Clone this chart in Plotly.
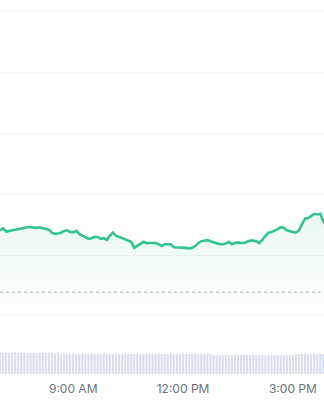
import pandas as pd
import plotly.graph_objects as go

# ---- data (5-minute intervals starting 07:00) ----
start_time = "2024-01-02 07:00"
prices = [
    61.41, 61.44, 61.39, 61.40, 61.41, 61.43, 61.44, 61.44, 61.45, 61.46,
    61.46, 61.45, 61.45, 61.46, 61.44, 61.43, 61.42, 61.37, 61.35, 61.36,
    61.37, 61.40, 61.41, 61.38, 61.38, 61.40, 61.35, 61.32, 61.29, 61.27,
    61.28, 61.30, 61.30, 61.27, 61.28, 61.25, 61.32, 61.37, 61.32, 61.30,
    61.28, 61.27, 61.25, 61.22, 61.12, 61.15, 61.18, 61.22, 61.20, 61.20,
    61.20, 61.20, 61.18, 61.15, 61.18, 61.18, 61.18, 61.13, 61.13, 61.13,
    61.13, 61.12, 61.11, 61.12, 61.15, 61.20, 61.23, 61.24, 61.25, 61.23,
    61.21, 61.19, 61.18, 61.18, 61.19, 61.22, 61.18, 61.20, 61.21, 61.20,
    61.20, 61.22, 61.24, 61.24, 61.23, 61.20, 61.25, 61.32, 61.37, 61.38,
    61.40, 61.43, 61.46, 61.45, 61.41, 61.39, 61.38, 61.37, 61.41, 61.51,
    61.60, 61.61, 61.64, 61.68, 61.67, 61.68, 61.55, 61.50,
]
volumes = [
    2.15, 2.10, 2.15, 2.10, 2.15, 2.15, 2.10, 2.15, 2.15, 2.10,
    2.15, 2.15, 2.10, 2.15, 2.15, 2.10, 2.15, 2.15, 2.10, 2.15,
    2.00, 2.05, 2.00, 2.00, 2.05, 2.00, 2.00, 2.05, 2.00, 2.00,
    2.05, 2.00, 2.00, 2.00, 2.05, 2.00, 2.00, 2.00, 2.05, 2.00,
    2.00, 2.05, 2.00, 2.00, 2.00, 2.05, 2.00, 2.00, 2.00, 2.05,
    2.00, 2.00, 2.05, 2.00, 2.00, 2.00, 2.05, 2.00, 2.00, 2.00,
    2.05, 2.00, 2.00, 2.00, 2.05, 2.00, 2.00, 2.00, 2.05, 2.00,
    1.90, 1.95, 1.90, 1.90, 1.95, 1.90, 1.90, 1.95, 1.90, 1.90,
    1.95, 1.90, 1.90, 1.95, 1.90, 1.90, 1.95, 1.90, 1.90, 1.95,
    1.90, 1.90, 1.95, 1.90, 1.90, 1.95, 1.90, 2.00, 2.00, 2.00,
    2.05, 2.00, 2.00, 2.05, 2.00, 2.05, 2.00, 2.00,
]
prev_close = 60.39
tick_times = ["2024-01-02 09:00", "2024-01-02 12:00", "2024-01-02 15:00"]
tick_labels = ["9:00 AM", "12:00 PM", "3:00 PM"]
x_range = ["2024-01-02 07:00", "2024-01-02 15:51"]
price_range = [59.046, 65.197]
volume_range = [0, 37.4]

times = pd.date_range(start_time, periods=len(prices), freq="5min")

GREEN = "#33c48d"

fig = go.Figure()
fig.add_trace(go.Scatter(
    x=times, y=prices, mode="lines",
    line=dict(color=GREEN, width=2.6),
    fill="tozeroy",
    fillgradient=dict(
        type="vertical",
        start=60.0, stop=61.68,
        colorscale=[[0, "rgba(51,196,141,0)"], [1, "rgba(51,196,141,0.11)"]],
    ),
    hoverinfo="skip", showlegend=False,
))
fig.add_trace(go.Bar(
    x=times, y=volumes, yaxis="y2",
    marker=dict(color="#d9deed", line=dict(width=0)),
    showlegend=False, hoverinfo="skip",
))
fig.add_hline(y=prev_close, line=dict(color="#c8c8c8", width=1.5, dash="dot"))

fig.update_layout(
    width=324, height=400,
    margin=dict(l=0, r=0, t=0, b=26),
    paper_bgcolor="white", plot_bgcolor="white",
    bargap=0.3,
    xaxis=dict(
        type="date", range=x_range, showgrid=False, zeroline=False,
        showline=False, ticks="", ticklabelstandoff=6,
        tickvals=tick_times, ticktext=tick_labels,
        tickfont=dict(family="Inter, Arial, sans-serif", size=12, color="#6b7280"),
    ),
    yaxis=dict(
        range=price_range, tick0=60, dtick=1, showticklabels=False,
        showgrid=True, gridcolor="#f2f2f2", gridwidth=1, zeroline=False,
    ),
    yaxis2=dict(
        overlaying="y", range=volume_range, showgrid=False,
        showticklabels=False, zeroline=False,
    ),
)

fig.write_html("out.html")
